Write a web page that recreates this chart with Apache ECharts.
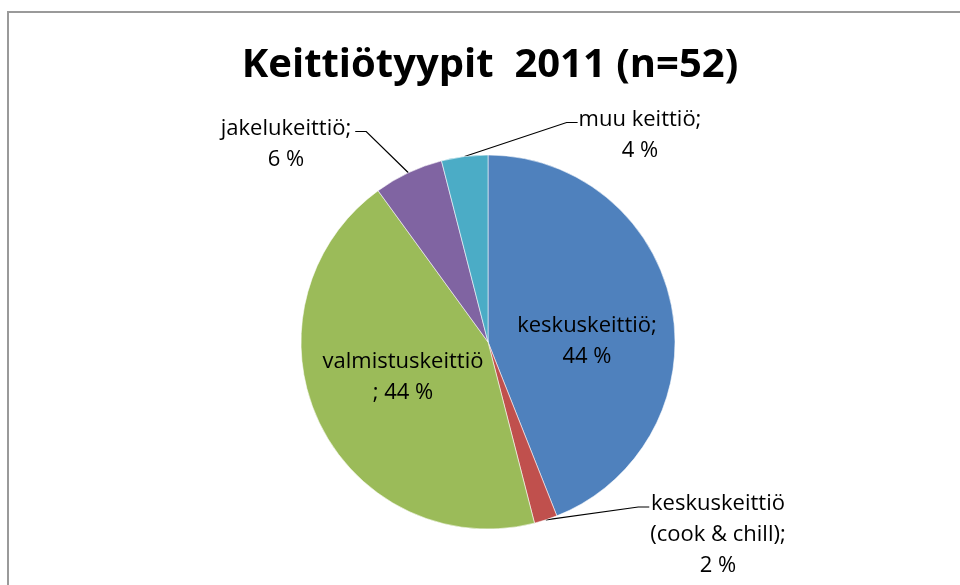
<!DOCTYPE html>
<html>
<head>
<meta charset="utf-8">
<script src="https://cdn.jsdelivr.net/npm/echarts@6/dist/echarts.min.js"></script>
<style>
  html, body { margin: 0; padding: 0; background: #fff; }
  #chart { width: 960px; height: 585px; }
</style>
</head>
<body>
<div id="chart"></div>
<script>
// Kitchen types 2011, share of respondents (%), n = 52
const titleText = 'Keittiötyypit  2011 (n=52)';
const sliceNames = ['keskuskeittiö', 'keskuskeittiö (cook & chill)', 'valmistuskeittiö', 'jakelukeittiö', 'muu keittiö'];
const sliceValues = [44, 2, 44, 6, 4];
const sliceColors = ['#4F81BD', '#C0504D', '#9BBB59', '#8064A2', '#4BACC6'];

// how the name and percentage are joined in each label
const labelJoins = [';\n', ';\n', '\n; ', ';\n', ';\n'];
// label block centres and placement (inside or outside the pie)
const labelSpots = [
  { x: 587, y: 341, inside: true },
  { x: 718, y: 535, inside: false, side: 'right' },
  { x: 403, y: 377, inside: true },
  { x: 286, y: 144, inside: false, side: 'left' },
  { x: 640, y: 135, inside: false, side: 'right' }
];

const labelFont = 'Open Sans';
const lineH = 31;

const chart = echarts.init(document.getElementById('chart'));

const data = sliceNames.map((name, i) => ({
  name: name,
  value: sliceValues[i],
  itemStyle: { color: sliceColors[i] },
  label: { position: labelSpots[i].inside ? 'inside' : 'outside' },
  labelLine: { show: !labelSpots[i].inside }
}));

chart.setOption({
  animation: false,
  backgroundColor: '#ffffff',
  title: {
    text: titleText,
    left: 485,
    top: 41,
    textAlign: 'center',
    textStyle: {
      fontFamily: labelFont,
      fontWeight: 'bold',
      fontSize: 40,
      color: '#000000'
    }
  },
  graphic: [{
    type: 'rect',
    shape: { x: 8, y: 12, width: 1200, height: 1200 },
    style: { fill: 'none', stroke: '#9a9a9a', lineWidth: 2 },
    silent: true
  }],
  series: [{
    type: 'pie',
    center: [488, 342],
    radius: 187,
    startAngle: 90,
    clockwise: true,
    avoidLabelOverlap: false,
    itemStyle: { borderColor: 'rgba(255,255,255,0.55)', borderWidth: 1 },
    label: {
      show: true,
      fontFamily: labelFont,
      fontSize: 22,
      lineHeight: lineH,
      color: '#000000',
      align: 'center',
      formatter: (p) => {
        const name = p.name.replace(' (', '\n(');
        return name + labelJoins[p.dataIndex] + Math.round(p.percent) + ' %';
      }
    },
    labelLine: {
      show: true,
      length: 20,
      length2: 10,
      lineStyle: { color: '#000000', width: 1.2 }
    },
    labelLayout: (params) => {
      const spot = labelSpots[params.dataIndex];
      const res = { x: spot.x, y: spot.y, align: 'center', verticalAlign: 'middle' };
      if (!spot.inside && params.labelLinePoints) {
        const start = params.labelLinePoints[0];
        const w = params.labelRect.width;
        const h = params.labelRect.height;
        const top = spot.y - h / 2;
        const stubY = top + lineH / 2 + 3;
        if (spot.side === 'right') {
          const left = spot.x - w / 2;
          res.labelLinePoints = [start, [left - 12, stubY], [left - 1, stubY]];
        } else {
          const right = spot.x + w / 2;
          res.labelLinePoints = [start, [right + 15, stubY], [right + 4, stubY]];
        }
      }
      return res;
    },
    data: data
  }]
});
</script>
</body>
</html>
